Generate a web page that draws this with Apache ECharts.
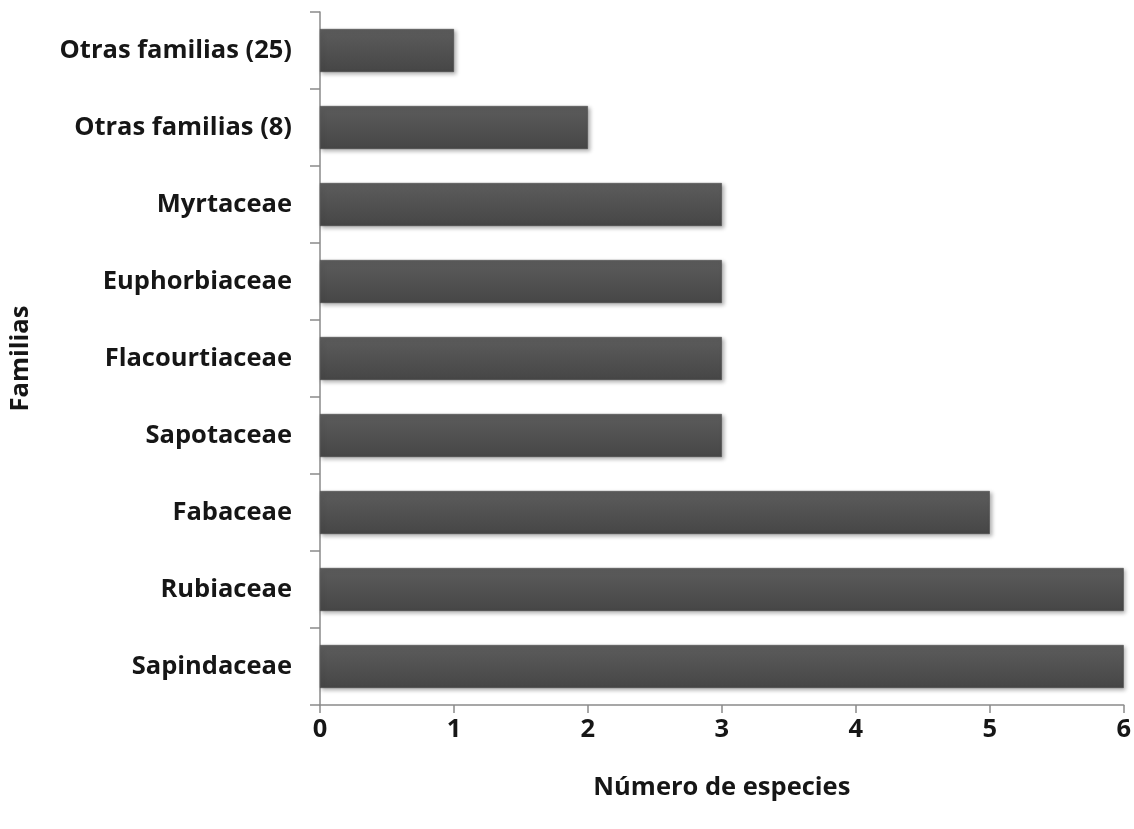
<!DOCTYPE html>
<html>
<head>
<meta charset="utf-8">
<script src="https://cdn.jsdelivr.net/npm/echarts@6/dist/echarts.min.js"></script>
<style>
  html, body { margin: 0; padding: 0; background: #fff; }
  #chart { width: 1134px; height: 829px; }
</style>
</head>
<body>
<div id="chart"></div>
<script>
// Families, listed bottom to top as they appear on the category axis
const familias = [
  'Sapindaceae', 'Rubiaceae', 'Fabaceae', 'Sapotaceae', 'Flacourtiaceae',
  'Euphorbiaceae', 'Myrtaceae', 'Otras familias (8)', 'Otras familias (25)'
];
// Number of species per family
const especies = [6, 6, 5, 3, 3, 3, 3, 2, 1];
// Value-axis ticks
const ejeX = [0, 1, 2, 3, 4, 5, 6];

const fontFam = '"Open Sans", Lato, sans-serif';
const axisGrey = '#8a8a8a';
const txt = { fontFamily: fontFam, fontWeight: 'bold', fontSize: 25.5, color: '#161616' };

const chart = echarts.init(document.getElementById('chart'));
chart.setOption({
  animation: false,
  backgroundColor: '#ffffff',
  grid: { left: 320, right: 10, top: 12, bottom: 124 },
  xAxis: {
    type: 'value',
    min: ejeX[0],
    max: ejeX[ejeX.length - 1],
    interval: 1,
    name: 'Número de especies',
    nameLocation: 'middle',
    nameGap: 70,
    nameTextStyle: txt,
    axisLine: { show: true, lineStyle: { color: axisGrey, width: 1.5 } },
    axisTick: { show: true, length: 8, lineStyle: { color: axisGrey, width: 1.5 } },
    axisLabel: Object.assign({ margin: 12 }, txt),
    splitLine: { show: false }
  },
  yAxis: {
    type: 'category',
    data: familias,
    name: 'Familias',
    nameLocation: 'middle',
    nameGap: 286,
    nameRotate: 90,
    nameTextStyle: txt,
    axisLine: { show: true, lineStyle: { color: axisGrey, width: 1.5 } },
    axisTick: { show: true, length: 10, lineStyle: { color: axisGrey, width: 1.5 } },
    axisLabel: Object.assign({ margin: 28 }, txt)
  },
  series: [{
    type: 'bar',
    data: especies,
    barWidth: 43,
    itemStyle: {
      color: new echarts.graphic.LinearGradient(0, 0, 0, 1, [
        { offset: 0, color: '#5c5c5c' },
        { offset: 1, color: '#464646' }
      ]),
      borderColor: '#444444',
      borderWidth: 0.5,
      shadowColor: 'rgba(0,0,0,0.3)',
      shadowBlur: 4,
      shadowOffsetX: 2,
      shadowOffsetY: 2
    }
  }]
});
</script>
</body>
</html>
